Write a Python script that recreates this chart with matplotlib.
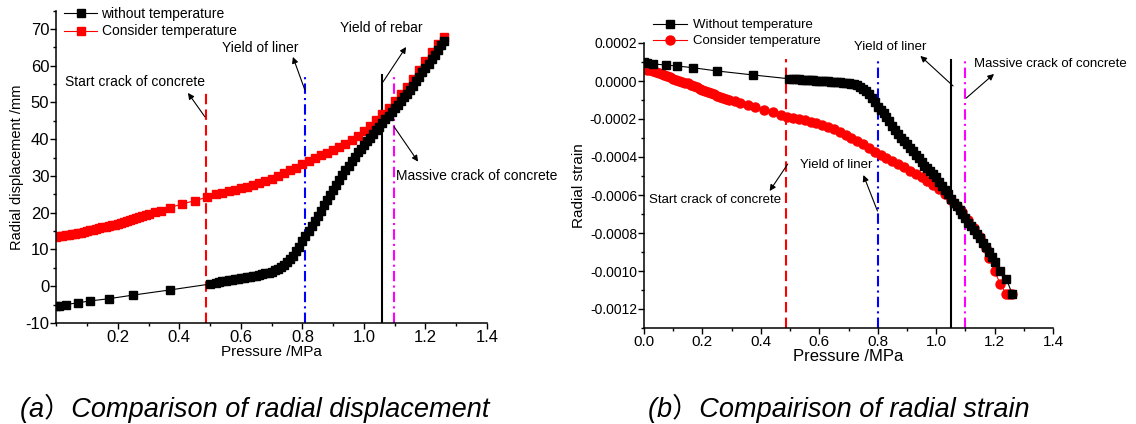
import matplotlib.pyplot as plt
from matplotlib.ticker import MultipleLocator, FormatStrFormatter, FuncFormatter

plt.rcParams['font.family'] = ['Liberation Sans', 'DejaVu Sans']
plt.rcParams['axes.unicode_minus'] = False

# ---- (a) radial displacement (mm) vs pressure (MPa)
disp_p_no = [0.0, 0.01, 0.03, 0.07, 0.11, 0.17, 0.25, 0.37, 0.50,
             0.52, 0.53, 0.54, 0.55, 0.56, 0.57, 0.58, 0.59, 0.60, 0.61, 0.62, 0.63, 0.64,
             0.65, 0.66, 0.67, 0.68, 0.69, 0.70, 0.71, 0.72, 0.73, 0.74, 0.75, 0.76, 0.77,
             0.78, 0.79, 0.80, 0.81, 0.82, 0.83, 0.84, 0.85, 0.86, 0.87, 0.88, 0.89, 0.90,
             0.91, 0.92, 0.93, 0.94, 0.95, 0.96, 0.97, 0.98, 0.99, 1.00, 1.01, 1.02, 1.03,
             1.04, 1.05, 1.06, 1.07, 1.08, 1.09, 1.10, 1.11, 1.12, 1.13, 1.14, 1.15, 1.16,
             1.17, 1.18, 1.19, 1.20, 1.21, 1.22, 1.23, 1.24, 1.25, 1.26]
disp_no = [-5.5, -5.3, -5.0, -4.5, -4.0, -3.4, -2.4, -1.0, 0.6,
           1.0, 1.2, 1.3, 1.5, 1.6, 1.8, 1.9, 2.0, 2.2, 2.3, 2.5, 2.6, 2.8,
           2.9, 3.1, 3.3, 3.5, 3.7, 4.0, 4.3, 4.7, 5.2, 5.8, 6.5, 7.3, 8.3,
           9.5, 10.8, 12.2, 13.6, 15.0, 16.4, 17.8, 19.2, 20.6, 22.0, 23.4, 24.8, 26.2,
           27.5, 28.9, 30.2, 31.5, 32.8, 34.0, 35.2, 36.4, 37.4, 38.4, 39.4, 40.4, 41.4,
           42.4, 43.4, 44.4, 45.4, 46.4, 47.4, 48.4, 49.4, 50.4, 51.4, 52.4, 53.5, 54.6,
           55.8, 57.0, 58.2, 59.4, 60.6, 61.8, 63.0, 64.3, 65.6, 66.8]

disp_p_t = [0.00, 0.01, 0.02, 0.03, 0.04, 0.05, 0.06, 0.07, 0.08, 0.09, 0.10, 0.11, 0.12,
            0.13, 0.14, 0.15, 0.16, 0.17, 0.18, 0.19, 0.20, 0.21, 0.22, 0.23, 0.24, 0.25,
            0.26, 0.27, 0.28, 0.29, 0.30, 0.32, 0.34, 0.37, 0.41, 0.45, 0.49, 0.52, 0.54,
            0.56, 0.58, 0.60, 0.62, 0.64, 0.66, 0.68, 0.70, 0.72, 0.74, 0.76, 0.78, 0.80,
            0.82, 0.84, 0.86, 0.88, 0.90, 0.92, 0.94, 0.96, 0.98, 1.00, 1.02, 1.04, 1.06,
            1.08, 1.10, 1.12, 1.14, 1.16, 1.18, 1.20, 1.22, 1.24, 1.26]
disp_t = [13.5, 13.6, 13.7, 13.9, 14.0, 14.2, 14.3, 14.5, 14.6, 14.8, 15.0, 15.2, 15.4,
          15.6, 15.8, 16.0, 16.2, 16.4, 16.6, 16.8, 17.0, 17.3, 17.5, 17.8, 18.0, 18.3,
          18.5, 18.8, 19.1, 19.3, 19.6, 20.1, 20.6, 21.4, 22.4, 23.3, 24.2, 25.0, 25.4,
          25.8, 26.2, 26.7, 27.1, 27.6, 28.1, 28.7, 29.3, 30.0, 30.7, 31.5, 32.3, 33.2,
          34.0, 34.8, 35.6, 36.3, 37.1, 37.9, 38.8, 39.8, 41.0, 42.3, 43.7, 45.3, 46.9,
          48.6, 50.4, 52.2, 54.3, 56.5, 58.8, 61.2, 63.6, 66.0, 67.8]

# ---- (b) radial strain vs pressure (MPa)
strain_p_no = [0.0, 0.01, 0.03, 0.075, 0.113, 0.167, 0.249, 0.372, 0.495,
               0.51, 0.52, 0.53, 0.54, 0.55, 0.56, 0.57, 0.58, 0.59, 0.60, 0.61, 0.62,
               0.63, 0.64, 0.65, 0.66, 0.67, 0.68, 0.69, 0.70, 0.71, 0.72, 0.73, 0.74,
               0.75, 0.76, 0.77, 0.78, 0.79, 0.80, 0.81, 0.82, 0.83, 0.84, 0.85, 0.86,
               0.87, 0.88, 0.89, 0.90, 0.91, 0.92, 0.93, 0.94, 0.95, 0.96, 0.97, 0.98,
               0.99, 1.00, 1.01, 1.02, 1.03, 1.04, 1.05, 1.06, 1.07, 1.08, 1.09, 1.10,
               1.11, 1.12, 1.13, 1.14, 1.15, 1.16, 1.17, 1.18, 1.19, 1.20, 1.22, 1.24, 1.26]
strain_no = [0.98e-4, 0.95e-4, 0.90e-4, 0.84e-4, 0.79e-4, 0.70e-4, 0.53e-4, 0.32e-4, 0.12e-4,
             0.10e-4, 0.09e-4, 0.08e-4, 0.07e-4, 0.06e-4, 0.05e-4, 0.04e-4, 0.03e-4, 0.02e-4,
             0.01e-4, 0.0, -0.01e-4, -0.02e-4, -0.03e-4, -0.04e-4, -0.05e-4, -0.06e-4,
             -0.08e-4, -0.10e-4, -0.12e-4, -0.14e-4, -0.18e-4, -0.23e-4, -0.30e-4,
             -0.42e-4, -0.55e-4, -0.70e-4, -0.90e-4, -1.10e-4, -1.35e-4, -1.55e-4, -1.70e-4,
             -1.90e-4, -2.10e-4, -2.35e-4, -2.60e-4, -2.80e-4, -3.00e-4, -3.15e-4, -3.30e-4,
             -3.50e-4, -3.70e-4, -3.90e-4, -4.05e-4, -4.25e-4, -4.45e-4, -4.60e-4, -4.75e-4,
             -4.90e-4, -5.05e-4, -5.30e-4, -5.50e-4, -5.75e-4, -5.95e-4, -6.20e-4, -6.40e-4,
             -6.60e-4, -6.80e-4, -7.00e-4, -7.20e-4, -7.45e-4, -7.65e-4, -7.85e-4, -8.05e-4,
             -8.25e-4, -8.50e-4, -8.75e-4, -9.00e-4, -9.25e-4, -9.55e-4, -10.0e-4, -10.4e-4,
             -11.2e-4]

strain_p_t = [0.00, 0.01, 0.02, 0.03, 0.04, 0.05, 0.06, 0.07, 0.08, 0.09, 0.10, 0.11, 0.12,
              0.13, 0.14, 0.15, 0.16, 0.17, 0.18, 0.19, 0.20, 0.21, 0.22, 0.23, 0.24, 0.25,
              0.26, 0.27, 0.28, 0.29, 0.31, 0.33, 0.355, 0.38, 0.41, 0.44, 0.47, 0.49, 0.51,
              0.53, 0.55, 0.57, 0.59, 0.61, 0.63, 0.65, 0.67, 0.69, 0.71, 0.73, 0.75, 0.77,
              0.79, 0.81, 0.83, 0.85, 0.87, 0.89, 0.91, 0.93, 0.95, 0.97, 0.99, 1.01, 1.03,
              1.05, 1.07, 1.09, 1.11, 1.13, 1.15, 1.17, 1.18, 1.20, 1.22, 1.24, 1.25, 1.26]
strain_t = [0.63e-4, 0.60e-4, 0.56e-4, 0.52e-4, 0.48e-4, 0.43e-4, 0.37e-4, 0.31e-4, 0.25e-4,
            0.19e-4, 0.13e-4, 0.07e-4, 0.02e-4, -0.03e-4, -0.08e-4, -0.13e-4, -0.19e-4,
            -0.26e-4, -0.33e-4, -0.40e-4, -0.47e-4, -0.53e-4, -0.59e-4, -0.65e-4, -0.71e-4,
            -0.77e-4, -0.83e-4, -0.90e-4, -0.96e-4, -1.00e-4, -1.07e-4, -1.15e-4, -1.25e-4,
            -1.36e-4, -1.50e-4, -1.65e-4, -1.79e-4, -1.88e-4, -1.95e-4, -2.00e-4, -2.07e-4,
            -2.14e-4, -2.20e-4, -2.30e-4, -2.42e-4, -2.55e-4, -2.68e-4, -2.82e-4, -2.98e-4,
            -3.14e-4, -3.32e-4, -3.52e-4, -3.72e-4, -3.90e-4, -4.05e-4, -4.20e-4, -4.38e-4,
            -4.55e-4, -4.72e-4, -4.88e-4, -5.05e-4, -5.25e-4, -5.45e-4, -5.68e-4, -5.95e-4,
            -6.25e-4, -6.58e-4, -6.92e-4, -7.30e-4, -7.72e-4, -8.20e-4, -8.80e-4, -9.30e-4,
            -10.0e-4, -10.7e-4, -11.2e-4, -11.2e-4, -11.2e-4]

# key events: pressure, colour, style, top of the marker line in each panel
event_p_a = [0.487, 0.807, 1.058, 1.097]
event_p_b = [0.485, 0.800, 1.052, 1.100]
event_top_a = [53.5, 58.0, 57.5, 57.5]
event_top_b = [1.15e-4, 1.05e-4, 1.10e-4, 1.05e-4]
event_colors = ['#ff0000', '#0000ff', 'black', '#ff00ff']
event_styles = [(0, (5, 2.5)), (0, (5, 2, 1, 2)), '-', (0, (5, 2, 1, 2))]

W, H = 1136, 424
fig = plt.figure(figsize=(W / 100, H / 100), dpi=100)
ax1 = fig.add_axes([56.3 / W, (H - 323) / H, (487 - 56.3) / W, (323 - 10.6) / H])
ax2 = fig.add_axes([644 / W, (H - 328) / H, (1053 - 644) / W, (328 - 43) / H])

arrow = dict(arrowstyle='-|>', color='black', lw=0.8, mutation_scale=9, shrinkA=0, shrinkB=0)

# ---------------- panel (a)
for p, top, c, ls in zip(event_p_a, event_top_a, event_colors, event_styles):
    ax1.plot([p, p], [-10, top], color=c, ls=ls, lw=1.5, zorder=1)
ax1.plot(disp_p_no, disp_no, color='black', lw=0.8, marker='s', ms=6, mec='black',
         label='without temperature', zorder=3)
ax1.plot(disp_p_t, disp_t, color='red', lw=0.8, marker='s', ms=6, mec='red',
         label='Consider temperature', zorder=2)

ax1.set_xlim(0, 1.4)
ax1.set_ylim(-10, 75)
ax1.set_xticks([0.2, 0.4, 0.6, 0.8, 1.0, 1.2, 1.4])
ax1.xaxis.set_minor_locator(MultipleLocator(0.1))
ax1.yaxis.set_major_locator(MultipleLocator(10))
ax1.yaxis.set_minor_locator(MultipleLocator(5))
ax1.xaxis.set_major_formatter(FormatStrFormatter('%.1f'))
ax1.set_xlabel('Pressure /MPa', fontsize=11)
ax1.set_ylabel('Radial displacement /mm', fontsize=10.5)
ax1.xaxis.set_label_coords(0.5, -0.072)
ax1.yaxis.set_label_coords(-0.074, 0.5)

ax1.annotate('', xy=(0.428, 52.6), xytext=(0.483, 46.1), arrowprops=arrow)
ax1.text(0.028, 55.6, 'Start crack of concrete', fontsize=10, va='center')
ax1.annotate('', xy=(0.769, 62.4), xytext=(0.808, 53.4), arrowprops=arrow)
ax1.text(0.662, 64.8, 'Yield of liner', fontsize=10, ha='center', va='center')
ax1.annotate('', xy=(1.137, 65.1), xytext=(1.062, 55.6), arrowprops=arrow)
ax1.text(1.055, 70.3, 'Yield of rebar', fontsize=10, ha='center', va='center')
ax1.annotate('', xy=(1.176, 33.9), xytext=(1.098, 43.4), arrowprops=arrow)
ax1.text(1.105, 30.1, 'Massive crack of concrete', fontsize=10, va='center', clip_on=False)

ax1.legend(loc='upper left', bbox_to_anchor=(64 / W, 1 - 7 / H), bbox_transform=fig.transFigure,
           frameon=False, fontsize=10, handlelength=2.4, handletextpad=0.3, borderpad=0,
           borderaxespad=0, labelspacing=0.25, numpoints=1)

# ---------------- panel (b)
for p, top, c, ls in zip(event_p_b, event_top_b, event_colors, event_styles):
    ax2.plot([p, p], [-0.0013, top], color=c, ls=ls, lw=1.5, zorder=1)
ax2.plot(strain_p_no, strain_no, color='black', lw=0.8, marker='s', ms=5.5, mec='black',
         label='Without temperature', zorder=3)
ax2.plot(strain_p_t, strain_t, color='red', lw=0.8, marker='o', ms=6.5, mec='red',
         label='Consider temperature', zorder=2)

ax2.set_xlim(0, 1.4)
ax2.set_ylim(-0.0013, 0.0002)
ax2.xaxis.set_major_locator(MultipleLocator(0.2))
ax2.xaxis.set_minor_locator(MultipleLocator(0.1))
ax2.yaxis.set_major_locator(MultipleLocator(0.0002))
ax2.yaxis.set_minor_locator(MultipleLocator(0.0001))
ax2.xaxis.set_major_formatter(FormatStrFormatter('%.1f'))
ax2.yaxis.set_major_formatter(FuncFormatter(lambda v, pos: '%.4f' % (0.0 if abs(v) < 1e-9 else v)))
ax2.set_xlabel('Pressure /MPa', fontsize=12)
ax2.set_ylabel('Radial strain', fontsize=11)
ax2.xaxis.set_label_coords(0.5, -0.072)
ax2.yaxis.set_label_coords(-0.143, 0.5)

ax2.annotate('', xy=(0.946, 1.32e-4), xytext=(1.058, -0.26e-4), arrowprops=arrow)
ax2.text(0.843, 1.79e-4, 'Yield of liner', fontsize=9.5, ha='center', va='center')
ax2.annotate('', xy=(1.198, 0.37e-4), xytext=(1.103, -0.9e-4), arrowprops=arrow)
ax2.text(1.128, 0.9e-4, 'Massive crack of concrete', fontsize=9.5, va='center', clip_on=False)
ax2.annotate('', xy=(0.751, -4.95e-4), xytext=(0.799, -6.84e-4), arrowprops=arrow)
ax2.text(0.659, -4.42e-4, 'Yield of liner', fontsize=9.5, ha='center', va='center')
ax2.annotate('', xy=(0.430, -5.79e-4), xytext=(0.492, -4.37e-4), arrowprops=arrow)
ax2.text(0.017, -6.26e-4, 'Start crack of concrete', fontsize=9.5, va='center')

ax2.legend(loc='upper left', bbox_to_anchor=(653 / W, 1 - 19 / H), bbox_transform=fig.transFigure,
           frameon=False, fontsize=9.5, handlelength=2.6, handletextpad=0.4, borderpad=0,
           borderaxespad=0, labelspacing=0.3, numpoints=1)

for ax, xs, ys in [(ax1, 12, 12), (ax2, 11, 10)]:
    ax.spines['top'].set_visible(False)
    ax.spines['right'].set_visible(False)
    ax.spines['left'].set_linewidth(1.1)
    ax.spines['bottom'].set_linewidth(1.1)
    ax.tick_params(which='major', direction='out', length=4, width=1)
    ax.tick_params(which='minor', direction='out', length=2.5, width=1)
    ax.tick_params(axis='x', labelsize=xs, pad=1)
    ax.tick_params(axis='y', labelsize=ys, pad=1)

cap = dict(fontsize=19.5, style='italic', va='center',
           family=['Liberation Sans', 'Noto Sans CJK SC'])
fig.text(20 / W, 1 - 408 / H, '(a）Comparison of radial displacement', **cap)
fig.text(648 / W, 1 - 408 / H, '(b）Compairison of radial strain', **cap)

fig.savefig('out.png', dpi=100)
